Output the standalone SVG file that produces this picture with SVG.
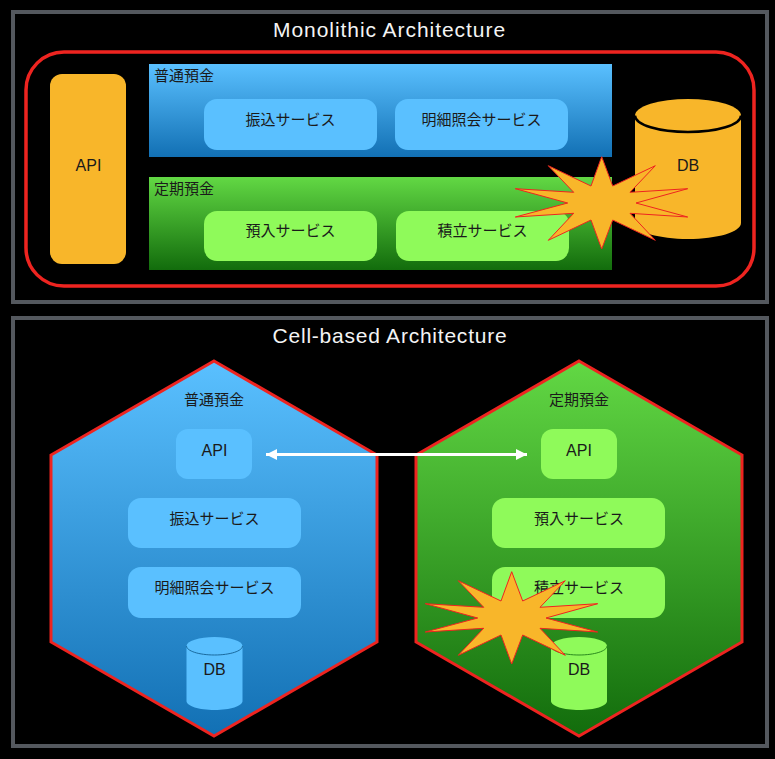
<svg xmlns="http://www.w3.org/2000/svg" width="775" height="759" viewBox="0 0 775 759">
<style>
text{font-family:"Liberation Sans","Noto Sans CJK JP",sans-serif;font-size:16px;fill:#1a1a1a;text-anchor:middle}
.jp{font-family:"Noto Sans CJK JP","Liberation Sans",sans-serif;font-size:15px}
.l{text-anchor:start}
.title{font-size:21px;fill:#f4f4f4;letter-spacing:.95px}
.title2{letter-spacing:.77px}
.frame{fill:none;stroke:#54585e;stroke-width:4}
.bs{fill:#5ac0ff}
.gs{fill:#8ffa5a}
.or{fill:#f8b62a}
.hex{stroke:#ee2420;stroke-width:3}
.star{fill:#f8b62a;stroke:#ee2420;stroke-width:1}
</style>
<defs>
<linearGradient id="b" x1="0" y1="0" x2="0" y2="1"><stop offset="0" stop-color="#5ac0ff"/><stop offset="1" stop-color="#1270b4"/></linearGradient>
<linearGradient id="g" x1="0" y1="0" x2="0" y2="1"><stop offset="0" stop-color="#62d844"/><stop offset="1" stop-color="#126c0c"/></linearGradient>
<marker id="ah" markerWidth="12" markerHeight="12" refX="11" refY="6" orient="auto-start-reverse" markerUnits="userSpaceOnUse"><path d="M0 0.5L11 6L0 11.5z" fill="#fff"/></marker>
<polygon id="st" class="star" points="601.7,156.7 612.7,186 655.3,165.7 630,192.3 687.7,188.7 636,203 687.7,217 630,213.3 655.3,240.3 612.7,220 601.7,249 591,220 548.3,240.3 573.7,213.3 515.3,217 567.7,203 515.3,188.7 573.7,192.3 548.3,165.7 591,186"/>
</defs>
<rect width="775" height="759" fill="#000"/>
<g id="monolithic-frame"><rect class="frame" x="13" y="12" width="754" height="290"/><text class="title" x="389.500" y="37">Monolithic Architecture</text></g>
<g id="cell-frame"><rect class="frame" x="13" y="318" width="754" height="428"/><text class="title title2" x="390" y="343">Cell-based Architecture</text></g>
<g id="monolith-boundary"><rect x="26" y="52" width="728" height="234" rx="38" fill="none" stroke="#ee2420" stroke-width="3.500"/></g>
<g id="mono-api"><rect class="or" x="50" y="74" width="76" height="190" rx="12"/><text x="88.500" y="171">API</text></g>
<g id="mono-db"><path class="or" d="M635 115V223C635 232 659 239 688 239S741 232 741 223V115z"/><ellipse class="or" cx="688" cy="115.500" rx="53" ry="16.500"/><path d="M635 115.500C635 125 659 132 688 132S741 125 741 115.500" fill="none" stroke="#000" stroke-width="2.500"/><text x="688" y="171">DB</text></g>
<g id="mono-futsu"><rect x="149" y="64" width="463" height="93" fill="url(#b)"/><text class="jp l" x="154" y="81">普通預金</text></g>
<g id="mono-furikomi"><rect class="bs" x="204" y="99" width="173" height="51" rx="13"/><text class="jp" x="290.500" y="125">振込サービス</text></g>
<g id="mono-meisai"><rect class="bs" x="395" y="99" width="173" height="51" rx="13"/><text class="jp" x="481.500" y="125">明細照会サービス</text></g>
<g id="mono-teiki"><rect x="149" y="177" width="463" height="93" fill="url(#g)"/><text class="jp l" x="154" y="194">定期預金</text></g>
<g id="mono-yonyu"><rect class="gs" x="204" y="211" width="173" height="50" rx="13"/><text class="jp" x="290.500" y="236">預入サービス</text></g>
<g id="mono-tsumitate"><rect class="gs" x="396" y="211" width="173" height="50" rx="13"/><text class="jp" x="482.500" y="236">積立サービス</text></g>
<g id="mono-burst"><use href="#st"/></g>
<g id="cell-futsu"><polygon class="hex" fill="url(#b)" points="214,361 377,455 377,642 214,736 51,642 51,455"/><text class="jp" x="214" y="405">普通預金</text></g>
<g id="cell-teiki"><polygon class="hex" fill="url(#g)" points="579,361 742,455 742,642 579,736 416,642 416,455"/><text class="jp" x="579" y="405">定期預金</text></g>
<g id="cell-futsu-api"><rect class="bs" x="176" y="429" width="76" height="50" rx="12"/><text x="214.500" y="456">API</text></g>
<g id="cell-furikomi"><rect class="bs" x="128" y="498" width="173" height="50" rx="13"/><text class="jp" x="214.500" y="524">振込サービス</text></g>
<g id="cell-meisai"><rect class="bs" x="128" y="567" width="173" height="51" rx="13"/><text class="jp" x="214.500" y="593">明細照会サービス</text></g>
<g id="cell-futsu-db"><path class="bs" d="M186.500 646V701C186.500 706 199 710 214.500 710S242.500 706 242.500 701V646z"/><ellipse class="bs" cx="214.500" cy="646" rx="28" ry="9"/><path d="M186.500 646C186.500 651 199 655 214.500 655S242.500 651 242.500 646" fill="none" stroke="#1a6a9e" stroke-width="1"/><text x="214.500" y="675">DB</text></g>
<g id="cell-teiki-api"><rect class="gs" x="541" y="429" width="76" height="50" rx="12"/><text x="579" y="456">API</text></g>
<g id="cell-yonyu"><rect class="gs" x="492" y="498" width="173" height="50" rx="13"/><text class="jp" x="579" y="524">預入サービス</text></g>
<g id="cell-tsumitate"><rect class="gs" x="492" y="567" width="173" height="51" rx="13"/><text class="jp" x="579" y="593">積立サービス</text></g>
<g id="cell-teiki-db"><path class="gs" d="M551 646V701C551 706 563.500 710 579 710S607 706 607 701V646z"/><ellipse class="gs" cx="579" cy="646" rx="28" ry="9"/><path d="M551 646C551 651 563.500 655 579 655S607 651 607 646" fill="none" stroke="#2a8a1e" stroke-width="1"/><text x="579" y="675">DB</text></g>
<g id="cell-burst"><use href="#st" x="-90" y="415"/></g>
<g id="connectors"><line x1="266" y1="454.500" x2="527" y2="454.500" stroke="#fff" stroke-width="3" marker-start="url(#ah)" marker-end="url(#ah)"/></g>
</svg>
